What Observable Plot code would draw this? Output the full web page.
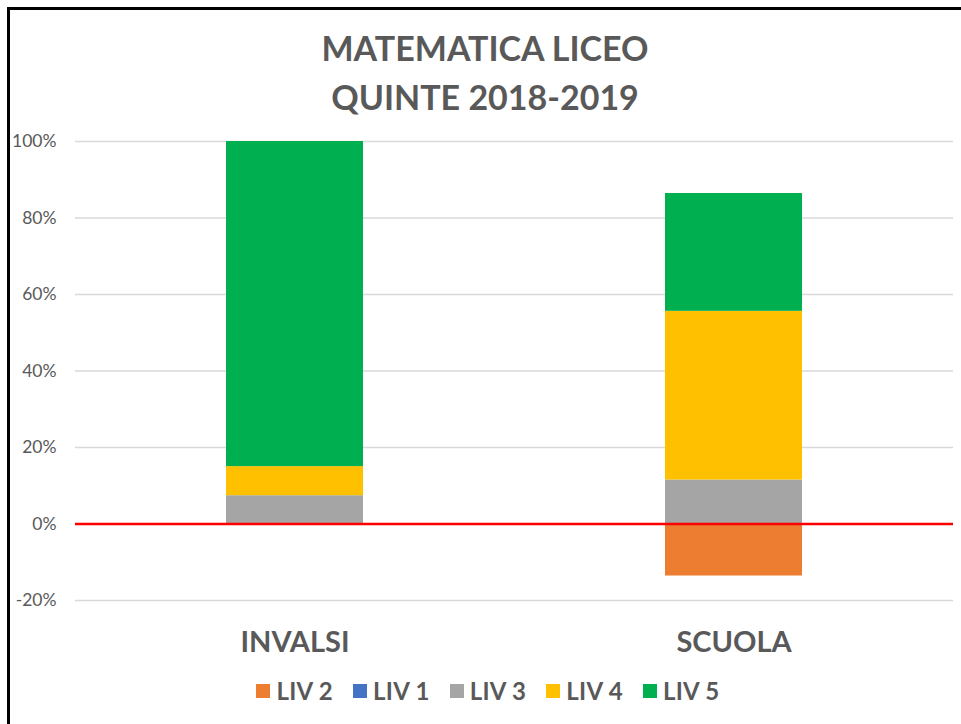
<!DOCTYPE html>
<html>
<head>
<meta charset="utf-8">
<script src="https://cdn.jsdelivr.net/npm/d3@7"></script>
<script src="https://cdn.jsdelivr.net/npm/@observablehq/plot@0.6"></script>
<style>
  html, body { margin: 0; padding: 0; background: #fff; }
  #wrap { position: relative; width: 961px; height: 724px; overflow: hidden; font-family: Lato, "Open Sans", sans-serif; color: #595959; }
  #frame { position: absolute; left: 7px; top: 7px; width: 1000px; height: 800px; border-left: 3px solid #000; border-top: 3px solid #000; box-sizing: border-box; }
  #title { position: absolute; left: 0; top: 23px; width: 970px; text-align: center; font-weight: bold; font-size: 34px; line-height: 49px; color: #595959; }
  #chart { position: absolute; left: 0; top: 120px; }
  #legend { position: absolute; left: 0; top: 676px; width: 976px; display: flex; justify-content: center; gap: 20px; font-weight: bold; font-size: 24px; letter-spacing: 0.3px; color: #595959; }
  .item { display: flex; align-items: center; gap: 6px; }
  .sw { width: 14px; height: 14px; display: inline-block; }
</style>
</head>
<body>
<div id="wrap">
  <div id="frame"></div>
  <div id="title">MATEMATICA LICEO<br>QUINTE 2018-2019</div>
  <div id="chart"></div>
  <div id="legend"></div>
</div>
<script>
const categories = ["INVALSI", "SCUOLA"];
const levels = ["LIV 2", "LIV 1", "LIV 3", "LIV 4", "LIV 5"];
const levelColors = ["#ED7D31", "#4472C4", "#A5A5A5", "#FFC000", "#00B050"];
const liv2 = [0, -0.136];
const liv1 = [0, 0];
const liv3 = [0.074, 0.115];
const liv4 = [0.076, 0.441];
const liv5 = [0.850, 0.308];
const yTicks = [-0.2, 0, 0.2, 0.4, 0.6, 0.8, 1.0];

const series = [liv2, liv1, liv3, liv4, liv5];
const data = [];
levels.forEach((lv, i) => {
  categories.forEach((c, j) => data.push({cat: c, level: lv, value: series[i][j]}));
});

const chart = Plot.plot({
  width: 961,
  height: 560,
  marginLeft: 75,
  marginRight: 8,
  marginTop: 21,
  marginBottom: 80,
  style: {fontFamily: "Lato, 'Open Sans', sans-serif", fontSize: "17.5px", color: "#595959", background: "transparent"},
  x: {domain: categories, paddingInner: 0.688, paddingOuter: 0.344, label: null},
  y: {domain: [-0.2, 1.0], label: null},
  color: {domain: levels, range: levelColors},
  marks: [
    Plot.gridY(yTicks, {stroke: "#d9d9d9", strokeOpacity: 1, strokeWidth: 1.3}),
    Plot.barY(data, Plot.stackY({x: "cat", y: "value", fill: "level", order: levels})),
    Plot.ruleY([0], {stroke: "#ff0000", strokeWidth: 2.5}),
    Plot.axisY(yTicks, {tickSize: 0, tickPadding: 19, tickFormat: d => Math.round(d * 100) + "%", fill: "#595959", label: null}),
    Plot.axisX({tickSize: 0, tickPadding: 31, fontSize: 29, fontWeight: "bold", fill: "#595959", label: null})
  ]
});
document.getElementById("chart").appendChild(chart);

const legend = document.getElementById("legend");
levels.forEach((lv, i) => {
  const it = document.createElement("div");
  it.className = "item";
  const sw = document.createElement("span");
  sw.className = "sw";
  sw.style.background = levelColors[i];
  const tx = document.createElement("span");
  tx.textContent = lv;
  it.appendChild(sw);
  it.appendChild(tx);
  legend.appendChild(it);
});
</script>
</body>
</html>
